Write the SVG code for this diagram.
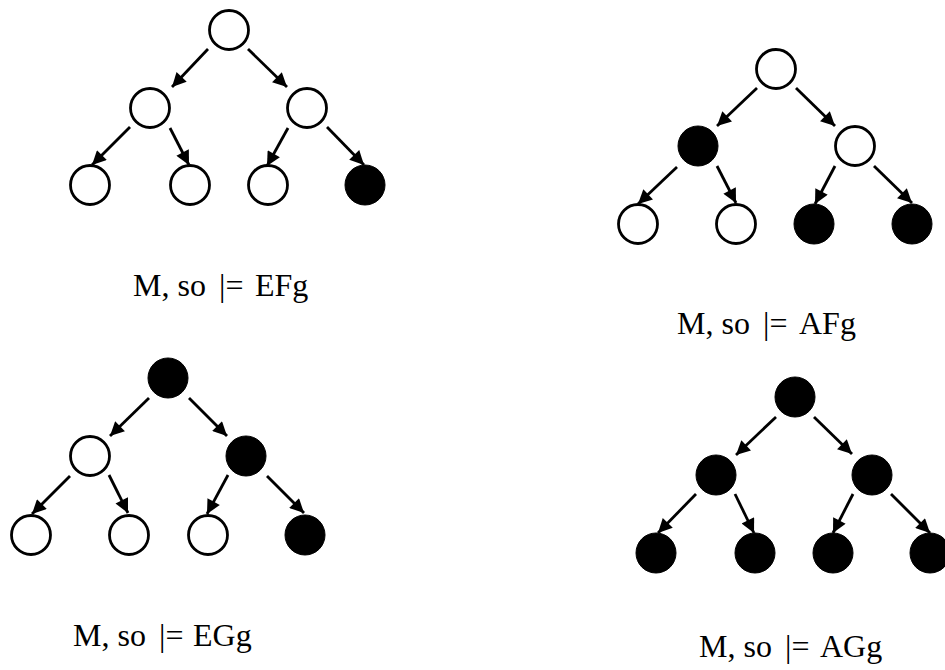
<svg xmlns="http://www.w3.org/2000/svg" width="945" height="670" viewBox="0 0 945 670">
<defs>
<marker id="ah" viewBox="0 0 10 10" refX="10" refY="5" markerWidth="17" markerHeight="14" markerUnits="userSpaceOnUse" orient="auto">
<path d="M0,0 L10,5 L0,10 z" fill="#000"/>
</marker>
</defs>
<style>
.o{fill:#fff;stroke:#000;stroke-width:2.8}
.f{fill:#000;stroke:#000;stroke-width:1}
.e{stroke:#000;stroke-width:2.8;fill:none;marker-end:url(#ah)}
.t{font-family:"Liberation Serif","Times New Roman",serif;font-size:32px;fill:#000}
</style>
<rect width="945" height="670" fill="#fff"/>
<g id="connectors">
<line class="e" x1="208" y1="49" x2="172" y2="87"/>
<line class="e" x1="248" y1="49" x2="287" y2="87"/>
<line class="e" x1="130" y1="127" x2="92" y2="165"/>
<line class="e" x1="170" y1="128" x2="189" y2="165"/>
<line class="e" x1="288" y1="128" x2="267" y2="166"/>
<line class="e" x1="327" y1="127" x2="364" y2="165"/>

<line class="e" x1="757" y1="88" x2="717" y2="126"/>
<line class="e" x1="796" y1="88" x2="835" y2="126"/>
<line class="e" x1="677" y1="167" x2="638" y2="204"/>
<line class="e" x1="717" y1="166" x2="736" y2="203"/>
<line class="e" x1="835" y1="166" x2="815" y2="204"/>
<line class="e" x1="874" y1="166" x2="912" y2="203"/>

<line class="e" x1="149" y1="398" x2="110" y2="436"/>
<line class="e" x1="189" y1="398" x2="227" y2="436"/>
<line class="e" x1="70" y1="476" x2="32" y2="514"/>
<line class="e" x1="109" y1="475" x2="128" y2="513"/>
<line class="e" x1="228" y1="475" x2="207" y2="514"/>
<line class="e" x1="267" y1="476" x2="304" y2="513"/>

<line class="e" x1="776" y1="417" x2="736" y2="455"/>
<line class="e" x1="814" y1="417" x2="852" y2="454"/>
<line class="e" x1="696" y1="494" x2="658" y2="533"/>
<line class="e" x1="735" y1="494" x2="754" y2="533"/>
<line class="e" x1="853" y1="494" x2="833" y2="533"/>
<line class="e" x1="891" y1="494" x2="930" y2="533"/>
</g>
<g id="tree1">
<circle id="t1-root" class="o" cx="229" cy="30" r="19.5"/>
<circle id="t1-ml" class="o" cx="150" cy="108" r="19.5"/>
<circle id="t1-mr" class="o" cx="307" cy="108" r="19.5"/>
<circle id="t1-l1" class="o" cx="90" cy="185" r="19.5"/>
<circle id="t1-l2" class="o" cx="190" cy="185" r="19.5"/>
<circle id="t1-l3" class="o" cx="268" cy="185" r="19.5"/>
<circle id="t1-l4" class="f" cx="365" cy="185" r="20"/>
</g>
<g id="tree2">
<circle id="t2-root" class="o" cx="776" cy="69" r="19.5"/>
<circle id="t2-ml" class="f" cx="698" cy="146" r="20"/>
<circle id="t2-mr" class="o" cx="855" cy="146" r="19.5"/>
<circle id="t2-l1" class="o" cx="638" cy="224" r="19.5"/>
<circle id="t2-l2" class="o" cx="736" cy="224" r="19.5"/>
<circle id="t2-l3" class="f" cx="814" cy="224" r="20"/>
<circle id="t2-l4" class="f" cx="912" cy="224" r="20"/>
</g>
<g id="tree3">
<circle id="t3-root" class="f" cx="168" cy="378" r="20"/>
<circle id="t3-ml" class="o" cx="90" cy="456" r="19.5"/>
<circle id="t3-mr" class="f" cx="246" cy="456" r="20"/>
<circle id="t3-l1" class="o" cx="31" cy="535" r="19.5"/>
<circle id="t3-l2" class="o" cx="129" cy="535" r="19.5"/>
<circle id="t3-l3" class="o" cx="208" cy="535" r="19.5"/>
<circle id="t3-l4" class="f" cx="305" cy="535" r="20"/>
</g>
<g id="tree4">
<circle id="t4-root" class="f" cx="795" cy="397" r="20"/>
<circle id="t4-ml" class="f" cx="716" cy="475" r="20"/>
<circle id="t4-mr" class="f" cx="872" cy="475" r="20"/>
<circle id="t4-l1" class="f" cx="656" cy="553" r="20"/>
<circle id="t4-l2" class="f" cx="755" cy="553" r="20"/>
<circle id="t4-l3" class="f" cx="833" cy="553" r="20"/>
<circle id="t4-l4" class="f" cx="930" cy="553" r="20"/>
</g>
<g id="labels">
<text id="lbl-efg" class="t" x="133" y="296">M, so<tspan x="219">|=</tspan><tspan x="255">EFg</tspan></text>
<text id="lbl-afg" class="t" x="677" y="334">M, so<tspan x="763">|=</tspan><tspan x="799">AFg</tspan></text>
<text id="lbl-egg" class="t" x="73" y="646">M, so<tspan x="159">|=</tspan><tspan x="193">EGg</tspan></text>
<text id="lbl-agg" class="t" x="699" y="657">M, so<tspan x="785">|=</tspan><tspan x="820">AGg</tspan></text>
</g>
</svg>
